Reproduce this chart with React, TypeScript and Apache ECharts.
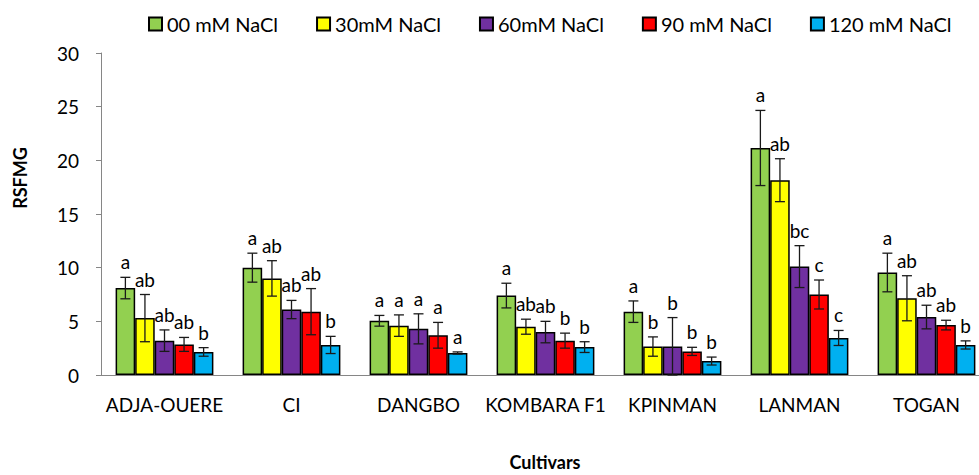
import React, { useEffect, useRef } from "react";
import * as echarts from "echarts";

const categories = ["ADJA-OUERE", "CI", "DANGBO", "KOMBARA F1", "KPINMAN", "LANMAN", "TOGAN"];
const seriesNames = ["00 mM NaCl", "30mM NaCl", "60mM NaCl", "90 mM NaCl", "120 mM NaCl"];
const colors = ["#92D050", "#FFFF00", "#7030A0", "#FF0000", "#00B0F0"];

const means00 = [8.1, 10.0, 5.05, 7.4, 5.9, 21.15, 9.55];
const means30 = [5.3, 9.0, 4.6, 4.5, 2.65, 18.15, 7.15];
const means60 = [3.2, 6.1, 4.3, 4.0, 2.65, 10.1, 5.4];
const means90 = [2.85, 5.9, 3.7, 3.2, 2.2, 7.5, 4.65];
const means120 = [2.15, 2.8, 2.05, 2.6, 1.3, 3.45, 2.8];

const err00 = [1.0, 1.35, 0.5, 1.15, 1.0, 3.5, 1.8];
const err30 = [2.2, 1.65, 1.0, 0.7, 0.9, 2.0, 2.1];
const err60 = [1.0, 0.85, 1.4, 1.0, 2.7, 1.95, 1.1];
const err90 = [0.65, 2.15, 1.2, 0.7, 0.38, 1.35, 0.45];
const err120 = [0.4, 0.8, 0.1, 0.5, 0.37, 0.7, 0.38];

const letters00 = ["a", "a", "a", "a", "a", "a", "a"];
const letters30 = ["ab", "ab", "a", "ab", "b", "ab", "ab"];
const letters60 = ["ab", "ab", "a", "ab", "b", "bc", "ab"];
const letters90 = ["ab", "ab", "a", "b", "b", "c", "ab"];
const letters120 = ["b", "b", "a", "b", "b", "c", "b"];

const yTicks = [0, 5, 10, 15, 20, 25, 30];

const allMeans = [means00, means30, means60, means90, means120];
const allErrs = [err00, err30, err60, err90, err120];
const allLetters = [letters00, letters30, letters60, letters90, letters120];

const FONT = "Lato, 'Open Sans', sans-serif";

export default function App() {
  const ref = useRef<HTMLDivElement>(null);
  useEffect(() => {
    if (!ref.current) return;
    const chart = echarts.init(ref.current, null, { renderer: "svg" });

    const errData: any[] = [];
    const errLetters: string[] = [];
    allMeans.forEach((arr, si) => {
      arr.forEach((m, ci) => {
        errData.push([ci, si, m, allErrs[si][ci]]);
        errLetters.push(allLetters[si][ci]);
      });
    });

    const barSeries = seriesNames.map((name, si) => ({
      name,
      type: "bar",
      data: allMeans[si],
      barGap: "0%",
      barCategoryGap: "23%",
      itemStyle: { color: colors[si], borderColor: "#000", borderWidth: 1.5 },
    }));

    const option: any = {
      animation: false,
      legend: {
        top: 9,
        left: 143,
        itemWidth: 13,
        itemHeight: 13,
        itemGap: 38,
        icon: "rect",
        textStyle: { fontFamily: FONT, fontSize: 20, color: "#000" },
        data: seriesNames,
      },
      grid: { left: 101, right: 0, top: 53, bottom: 100, containLabel: false },
      xAxis: {
        type: "category",
        data: categories,
        axisLine: { lineStyle: { color: "#868686", width: 1 } },
        axisTick: { show: false },
        axisLabel: { fontFamily: FONT, fontSize: 19, color: "#000", margin: 20, interval: 0 },
      },
      yAxis: {
        type: "value",
        min: 0,
        max: yTicks[yTicks.length - 1],
        interval: 5,
        axisLine: { show: true, lineStyle: { color: "#868686", width: 1 } },
        axisTick: { show: true, length: 5, lineStyle: { color: "#868686" } },
        splitLine: { show: false },
        axisLabel: { fontFamily: FONT, fontSize: 19, color: "#000", margin: 22 },
      },
      graphic: [
        {
          type: "text",
          x: 20,
          y: 178,
          rotation: Math.PI / 2,
          style: {
            text: "RSFMG",
            font: `bold 18px ${FONT}`,
            fill: "#000",
            textAlign: "center",
            textVerticalAlign: "middle",
          },
        },
        {
          type: "text",
          x: 545,
          y: 462,
          style: {
            text: "Cultivars",
            font: `bold 18px ${FONT}`,
            fill: "#000",
            textAlign: "center",
            textVerticalAlign: "middle",
          },
        },
      ],
      series: [
        ...barSeries,
        {
          type: "custom",
          z: 10,
          encode: { x: 0, y: 2 },
          data: errData,
          renderItem: (params: any, api: any) => {
            const ci = api.value(0);
            const si = api.value(1);
            const mean = api.value(2);
            const err = api.value(3);
            const c = api.coord([ci, mean]);
            const bandW = api.size([1, 0])[0];
            const bw = (bandW * 0.77) / 5;
            const x = c[0] + (si - 2) * bw;
            const top = api.coord([ci, mean + err])[1];
            const bot = api.coord([ci, Math.max(mean - err, 0)])[1];
            const ls = { stroke: "#1a1a1a", lineWidth: 1.3 };
            return {
              type: "group",
              children: [
                { type: "line", shape: { x1: x, y1: top, x2: x, y2: bot }, style: ls },
                { type: "line", shape: { x1: x - 5, y1: top, x2: x + 5, y2: top }, style: ls },
                { type: "line", shape: { x1: x - 5, y1: bot, x2: x + 5, y2: bot }, style: ls },
                {
                  type: "text",
                  x: x,
                  y: top - 6,
                  style: {
                    text: errLetters[params.dataIndex],
                    font: `19px ${FONT}`,
                    fill: "#000",
                    textAlign: "center",
                    textVerticalAlign: "bottom",
                  },
                },
              ],
            };
          },
        },
      ],
    };
    chart.setOption(option);
    return () => chart.dispose();
  }, []);

  return (
    <div style={{ position: "fixed", left: 0, top: 0, width: 979, height: 475, overflow: "hidden", background: "#fff" }}>
      <div ref={ref} style={{ width: 990, height: 475 }} />
    </div>
  );
}
